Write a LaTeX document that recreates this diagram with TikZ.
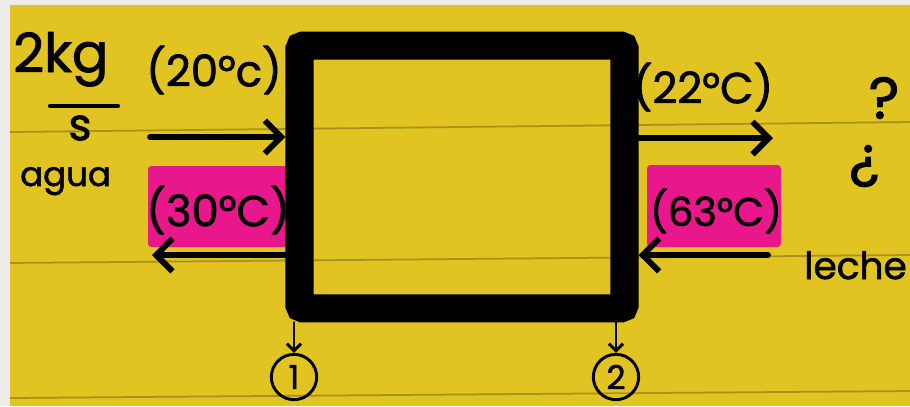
\documentclass[tikz,border=0pt]{standalone}
\usepackage{fontspec}
\setmainfont{Poppins}[FakeBold=1.6]
\usetikzlibrary{arrows.meta,positioning}
\definecolor{padyellow}{HTML}{E1C322}
\definecolor{padline}{HTML}{A8921C}
\definecolor{hlpink}{HTML}{E8178B}
\definecolor{margingray}{HTML}{EEECE8}

\begin{document}
\begin{tikzpicture}[x=0.03cm,y=-0.03cm,
  flow/.style={-{Straight Barb[length=14pt,width=28pt]},line width=5pt,line cap=round},
  temp/.style={font=\fontsize{37}{42}\selectfont,inner sep=0pt},
  hand/.style={font=\fontsize{32}{36}\selectfont,inner sep=0pt},
  hilite/.style={fill=hlpink,rounded corners=3pt},
  tap/.style={-{Straight Barb[length=6pt,width=12pt]},line width=2.5pt,line cap=round},
  tag/.style={draw,circle,line width=2.5pt,minimum size=1.36cm,inner sep=0pt,
              font=\fontsize{28}{30}\selectfont},
  rule/.style={padline,line width=1.5pt},
]
  \useasboundingbox (0,0) rectangle (910,406);
  \fill[margingray] (0,0) rectangle (910,406);
  \fill[padyellow] (10,5) rectangle (910,406);

  % ruled paper
  \draw[rule] (10,132) -- (910,122);
  \draw[rule] (10,263) -- (910,255);
  \draw[rule] (10,398) -- (910,391);

  % highlighter
  \fill[hilite] (148,166) rectangle (287,247);
  \fill[hilite] (647,165) rectangle (781,247);

  % exchanger
  \node[draw,line width=24pt,rounded corners=3pt,minimum width=9.75cm,minimum height=7.88cm,
        inner sep=0pt] (hx) at (462,177) {};

  % water side
  \coordinate (win) at (150,137);
  \coordinate (wout) at (152,255);
  \draw[flow] (win) -- (win -| hx.west);
  \draw[flow] (wout -| hx.west) -- (wout);
  \node[temp] (t20) at (214,70) {(20°c)};
  \node[temp] (t30) at (218,210) {(30°C)};

  % milk side
  \coordinate (mout) at (773,138);
  \coordinate (min) at (768,255);
  \draw[flow] (mout -| hx.east) -- (mout);
  \draw[flow] (min) -- (min -| hx.east);
  \node[temp] (t22) at (703,87) {(22°C)};
  \node[temp,font=\fontsize{34}{38}\selectfont] (t63) at (716,211) {(63°C)};

  % labels
  \node[hand,font=\fontsize{46}{50}\selectfont,anchor=base west] (rate) at (13,72) {2kg};
  \coordinate (barl) at (50,106);
  \coordinate (barr) at (118,106);
  \draw[line width=3.5pt,line cap=round] (barl) -- (barr);
  \node[hand,font=\fontsize{38}{40}\selectfont] (per) at (80,128) {s};
  \node[hand,font=\fontsize{29}{34}\selectfont,anchor=base west] (agua) at (20,186) {agua};
  \node[hand,font=\fontsize{32}{36}\selectfont,anchor=base east] (leche) at (907,279) {leche};
  \node[hand,font=\fontsize{50}{54}\selectfont] (qa) at (884,98) {?};
  \node[hand,font=\fontsize{50}{54}\selectfont] (qb) at (864,166) {¿};

  % states
  \node[tag] (one) at (294,377) {1};
  \node[tag] (two) at (616,377) {2};
  \draw[tap] (one |- hx.south) -- (one.north);
  \draw[tap] (two |- hx.south) -- (two.north);
\end{tikzpicture}
\end{document}
